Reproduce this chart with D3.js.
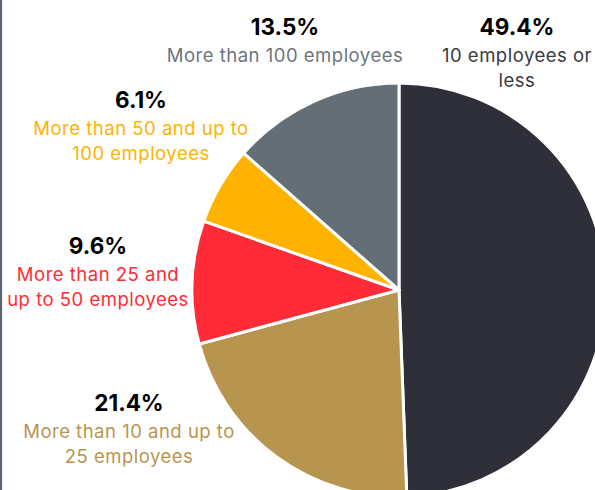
<!DOCTYPE html>
<html>
<head>
<meta charset="utf-8">
<script src="https://cdn.jsdelivr.net/npm/d3@7"></script>
<style>
  html, body { margin: 0; padding: 0; background: #fff; }
  svg { display: block; }
</style>
</head>
<body>
<svg id="chart" width="595" height="490"></svg>
<script>
// Company size breakdown (share of firms, %)
const categories = [
  "10 employees or less",
  "More than 10 and up to 25 employees",
  "More than 25 and up to 50 employees",
  "More than 50 and up to 100 employees",
  "More than 100 employees"
];
const shares = [49.4, 21.4, 9.6, 6.1, 13.5];
const sliceColors = ["#2f2f39", "#b8954f", "#ff2b36", "#ffb300", "#646e76"];
const labelColors = ["#3a3a42", "#b8954f", "#ff2b36", "#ffb300", "#6c757e"];
// Label text lines per category (wrapped as laid out)
const labelLines = [
  ["10 employees or", "less"],
  ["More than 10 and up to", "25 employees"],
  ["More than 25 and", "up to 50 employees"],
  ["More than 50 and up to", "100 employees"],
  ["More than 100 employees"]
];
// Label anchor points (centre x, percent baseline y)
const labelPos = [[517, 35], [129, 411], [98, 254], [141, 108], [285, 35]];

const svg = d3.select("#chart");
const W = 595, H = 490;
const cx = 399, cy = 290, r = 207;

// frame edge on the left
svg.append("rect")
  .attr("x", 1).attr("y", -30)
  .attr("width", W + 40).attr("height", H + 60)
  .attr("rx", 22).attr("ry", 22)
  .attr("fill", "none")
  .attr("stroke", "#5d6772")
  .attr("stroke-width", 2.2);

const data = categories.map((c, i) => ({ name: c, value: shares[i], i }));
const pie = d3.pie().value(d => d.value).sort(null);
const arc = d3.arc().innerRadius(0).outerRadius(r);

const g = svg.append("g").attr("transform", `translate(${cx},${cy})`);
g.selectAll("path")
  .data(pie(data))
  .join("path")
  .attr("d", arc)
  .attr("fill", d => sliceColors[d.data.i])
  .attr("stroke", "#ffffff")
  .attr("stroke-width", 3)
  .attr("stroke-linejoin", "round");

const font = "Inter, 'Open Sans', sans-serif";
const labels = svg.append("g");
data.forEach((d, i) => {
  const [x, y] = labelPos[i];
  labels.append("text")
    .attr("x", x).attr("y", y)
    .attr("text-anchor", "middle")
    .attr("font-family", font)
    .attr("font-size", 22.5)
    .attr("font-weight", 700)
    .attr("fill", "#000")
    .text(d3.format(".1f")(d.value) + "%");
  labelLines[i].forEach((line, k) => {
    labels.append("text")
      .attr("x", x).attr("y", y + 27 + k * 25)
      .attr("text-anchor", "middle")
      .attr("font-family", font)
      .attr("font-size", 18.5)
      .attr("letter-spacing", 0.5)
      .attr("fill", labelColors[i])
      .text(line);
  });
});
</script>
</body>
</html>
